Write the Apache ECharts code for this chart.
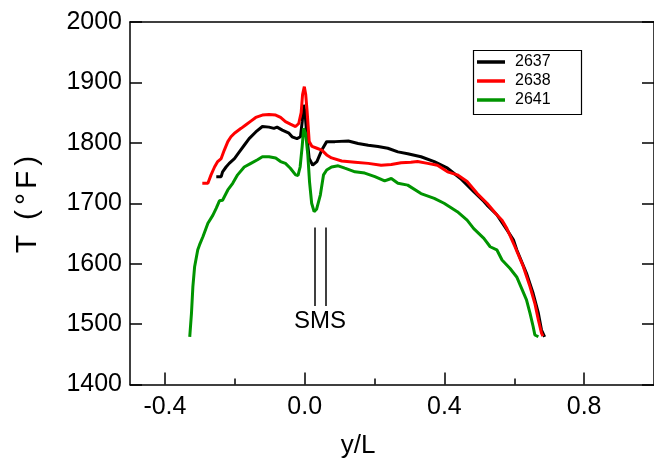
<!DOCTYPE html>
<html>
<head>
<meta charset="utf-8">
<script src="https://cdn.jsdelivr.net/npm/echarts@6/dist/echarts.min.js"></script>
<style>
  html, body { margin: 0; padding: 0; background: #fff; }
  #chart { width: 654px; height: 462px; }
</style>
</head>
<body>
<div id="chart"></div>
<script>
// Run labels
const seriesNames = ['2637', '2638', '2641'];
const seriesColors = ['#000000', '#ff0000', '#009400'];

// Run 2637: position y/L and temperature (°F)
const pos2637 = [-0.253, -0.239, -0.235, -0.225, -0.216, -0.201, -0.187, -0.173, -0.159, -0.140,
  -0.121, -0.102, -0.088, -0.079, -0.064, -0.045, -0.036, -0.022, -0.012, -0.007,
  -0.003, 0.001, 0.007, 0.013, 0.023, 0.035, 0.049, 0.063, 0.087, 0.125,
  0.153, 0.182, 0.210, 0.238, 0.267, 0.295, 0.333, 0.371, 0.409, 0.446,
  0.484, 0.513, 0.522, 0.550, 0.579, 0.598, 0.607, 0.635, 0.654, 0.669,
  0.678, 0.687];
const temp2637 = [1744, 1744, 1752, 1760, 1766, 1774, 1785, 1796, 1807, 1818,
  1827, 1826, 1824, 1826, 1821, 1816, 1810, 1807, 1810, 1835,
  1863, 1850, 1807, 1774, 1763, 1769, 1788, 1802, 1802, 1803,
  1799, 1796, 1794, 1791, 1785, 1782, 1777, 1769, 1758, 1741,
  1719, 1703, 1697, 1681, 1656, 1639, 1623, 1584, 1551, 1518,
  1490, 1479];

// Run 2638
const pos2638 = [-0.293, -0.277, -0.268, -0.258, -0.249, -0.239, -0.230, -0.220, -0.211, -0.201,
  -0.182, -0.168, -0.154, -0.140, -0.121, -0.102, -0.083, -0.069, -0.055, -0.041,
  -0.026, -0.017, -0.010, -0.006, -0.001, 0.003, 0.007, 0.013, 0.021, 0.035,
  0.049, 0.063, 0.077, 0.106, 0.144, 0.182, 0.219, 0.248, 0.276, 0.304,
  0.323, 0.352, 0.380, 0.409, 0.437, 0.465, 0.494, 0.522, 0.550, 0.565,
  0.579, 0.602, 0.626, 0.645, 0.659, 0.669, 0.678, 0.682];
const temp2638 = [1733, 1733, 1747, 1760, 1769, 1774, 1788, 1802, 1810, 1816,
  1824, 1830, 1836, 1842, 1846, 1847, 1846, 1842, 1835, 1831,
  1827, 1832, 1850, 1880, 1893, 1880, 1852, 1802, 1794, 1791,
  1788, 1780, 1775, 1770, 1768, 1766, 1763, 1764, 1767, 1768,
  1769, 1766, 1763, 1752, 1747, 1736, 1716, 1700, 1681, 1672,
  1658, 1628, 1595, 1562, 1534, 1507, 1485, 1480];

// Run 2641
const pos2641 = [-0.329, -0.324, -0.320, -0.315, -0.306, -0.301, -0.291, -0.277, -0.263, -0.253,
  -0.244, -0.235, -0.220, -0.206, -0.192, -0.173, -0.154, -0.135, -0.121, -0.102,
  -0.083, -0.069, -0.055, -0.041, -0.026, -0.019, -0.013, -0.007, -0.003, 0.003,
  0.009, 0.014, 0.020, 0.027, 0.034, 0.045, 0.054, 0.063, 0.077, 0.096,
  0.115, 0.144, 0.172, 0.201, 0.229, 0.248, 0.267, 0.295, 0.333, 0.371,
  0.399, 0.437, 0.465, 0.484, 0.513, 0.531, 0.550, 0.565, 0.588, 0.607,
  0.621, 0.635, 0.645, 0.654, 0.659, 0.669];
const temp2641 = [1479, 1518, 1562, 1595, 1623, 1631, 1645, 1667, 1680, 1692,
  1704, 1705, 1722, 1733, 1747, 1760, 1766, 1772, 1777, 1777,
  1775, 1769, 1766, 1758, 1747, 1746, 1760, 1795, 1824, 1815,
  1780, 1735, 1700, 1686, 1690, 1714, 1747, 1755, 1760, 1762,
  1758, 1752, 1750, 1744, 1737, 1741, 1733, 1730, 1716, 1708,
  1700, 1686, 1672, 1658, 1642, 1628, 1623, 1606, 1592, 1578,
  1559, 1540, 1518, 1496, 1482, 1479];

// Axis ticks
const xMajorTicks = [-0.4, 0.0, 0.4, 0.8];
const xMinorTicks = [-0.2, 0.2, 0.6];

// SMS marker position (y/L) and vertical extent (°F)
const smsPos = [0.030, 0.059];
const smsRange = [1530, 1660];
const smsLabelPos = [0.044, 1505];

const pair = (xs, ys) => xs.map((x, i) => [x, ys[i]]);

const FONT = 'Liberation Sans, Arial, sans-serif';
const axisLineStyle = { color: '#000', width: 1.5 };

const chart = echarts.init(document.getElementById('chart'), null, { renderer: 'canvas' });

const lineSeries = (name, data, color, z) => ({
  name, type: 'line', data, showSymbol: false, symbol: 'none',
  lineStyle: { color, width: 3 }, itemStyle: { color },
  z, animation: false
});

chart.setOption({
  animation: false,
  backgroundColor: '#fff',
  grid: { left: 130, top: 22, width: 528.5, height: 362.5, containLabel: false },
  xAxis: [
    {
      type: 'value', min: -0.5, max: 1.0, position: 'bottom',
      axisLine: { show: true, onZero: false, lineStyle: axisLineStyle },
      axisTick: { show: true, inside: true, length: 12, customValues: xMajorTicks, lineStyle: axisLineStyle },
      axisLabel: { show: true, customValues: xMajorTicks, formatter: v => v.toFixed(1),
        fontSize: 25, color: '#000', margin: 10, fontFamily: FONT },
      splitLine: { show: false }
    },
    {
      type: 'value', min: -0.5, max: 1.0, position: 'bottom',
      axisLine: { show: false, onZero: false },
      axisTick: { show: true, inside: true, length: 6, customValues: xMinorTicks, lineStyle: axisLineStyle },
      axisLabel: { show: false },
      splitLine: { show: false }
    },
    {
      type: 'value', min: -0.5, max: 1.0, position: 'top',
      axisLine: { show: true, onZero: false, lineStyle: axisLineStyle },
      axisTick: { show: false }, axisLabel: { show: false }, splitLine: { show: false }
    }
  ],
  yAxis: [
    {
      type: 'value', min: 1400, max: 2000, interval: 100, position: 'left',
      axisLine: { show: true, onZero: false, lineStyle: axisLineStyle },
      axisTick: { show: true, inside: true, length: 12, lineStyle: axisLineStyle },
      axisLabel: { fontSize: 25, color: '#000', margin: 8, fontFamily: FONT, formatter: v => String(v) },
      splitLine: { show: false }
    },
    {
      type: 'value', min: 1400, max: 2000, interval: 100, position: 'right',
      axisLine: { show: true, onZero: false, lineStyle: axisLineStyle },
      axisTick: { show: true, inside: true, length: 12, lineStyle: axisLineStyle },
      axisLabel: { show: false }, splitLine: { show: false }
    }
  ],
  legend: {
    data: seriesNames.map(n => ({ name: n, icon: 'rect' })),
    orient: 'vertical', left: 471, top: 48,
    itemWidth: 28, itemHeight: 3.5, itemGap: 1,
    padding: [5, 2, 4, 6],
    borderWidth: 0,
    textStyle: { fontSize: 16, color: '#000', fontFamily: FONT, lineHeight: 18, padding: [0, 0, 0, 5] }
  },
  series: [
    lineSeries(seriesNames[0], pair(pos2637, temp2637), seriesColors[0], 2),
    lineSeries(seriesNames[2], pair(pos2641, temp2641), seriesColors[2], 3),
    lineSeries(seriesNames[1], pair(pos2638, temp2638), seriesColors[1], 4),
    {
      name: 'SMS', type: 'line', data: [], silent: true, animation: false,
      markLine: {
        silent: true, symbol: 'none', animation: false,
        lineStyle: { color: '#000', width: 1.5, type: 'solid' },
        label: { show: false },
        data: smsPos.map(x => [{ coord: [x, smsRange[0]] }, { coord: [x, smsRange[1]] }])
      },
      markPoint: {
        silent: true, symbol: 'circle', symbolSize: 0, animation: false,
        label: { show: true, formatter: 'SMS', fontSize: 24, color: '#000', fontFamily: FONT,
          position: 'inside' },
        data: [{ coord: smsLabelPos }]
      }
    }
  ],
  graphic: [
    // legend frame
    {
      type: 'rect', left: 471, top: 48, z: 1,
      shape: { width: 108, height: 64 },
      style: { fill: 'none', stroke: '#000', lineWidth: 1.2 }
    },
    {
      type: 'text', x: 358, y: 446,
      style: { text: 'y/L', font: '26px ' + FONT, fill: '#000', textAlign: 'center', textVerticalAlign: 'middle' }
    },
    {
      type: 'text', x: 28, y: 203, rotation: Math.PI / 2,
      style: {
        text: '{t|T}{p|(}{d|°}{f|F}{p|)}', fill: '#000', textAlign: 'center', textVerticalAlign: 'middle',
        rich: {
          t: { font: '30px ' + FONT, fill: '#000', padding: [0, 12, 0, 0] },
          p: { font: '30px ' + FONT, fill: '#000', padding: [0, 3, 0, 3] },
          d: { font: '30px ' + FONT, fill: '#000', padding: [0, 2, 0, 2] },
          f: { font: '30px ' + FONT, fill: '#000', padding: [0, 2, 0, 2] }
        }
      }
    }
  ]
});
</script>
</body>
</html>
